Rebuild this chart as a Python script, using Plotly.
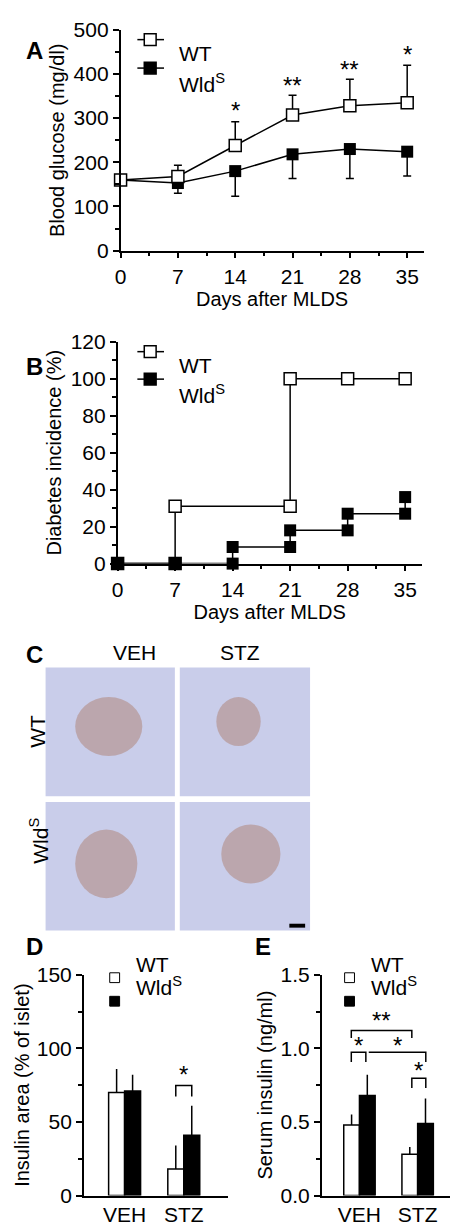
import plotly.graph_objects as go

W, H = 458, 1226

# panel A - blood glucose
days = [0, 7, 14, 21, 28, 35]
wt_glucose = [160, 168, 238, 307, 328, 335]
wt_glucose_err = [0, 25, 54, 45, 60, 85]
wlds_glucose = [160, 153, 180, 218, 230, 224]
wlds_glucose_err = [0, 23, 57, 55, 67, 55]
glucose_stars = ["*", "**", "**", "*"]
glucose_star_days = [14, 21, 28, 35]
glucose_star_y = [318, 373, 410, 443]

# panel B - diabetes incidence (step curves)
wt_inc_x = [0, 7, 7, 21, 21, 28, 35]
wt_inc_y = [0, 0, 31, 31, 100, 100, 100]
wlds_inc_x = [0, 7, 14, 14, 21, 21, 28, 28, 35, 35]
wlds_inc_y = [0, 0, 0, 9, 9, 18, 18, 27, 27, 36]

# panel D - insulin area
groups = ["VEH", "STZ"]
wt_area = [70, 18]
wt_area_err = [16, 16]
wlds_area = [71, 41]
wlds_area_err = [11, 20]

# panel E - serum insulin
wt_serum = [0.48, 0.28]
wt_serum_err = [0.07, 0.05]
wlds_serum = [0.68, 0.49]
wlds_serum_err = [0.14, 0.17]

FONT = "Liberation Sans, Arial, sans-serif"
TICK = 21
TITLE = 20
LEG = 21
STAR = 24


def px(x):
    return x / W


def py(y):
    return 1 - y / H


fig = go.Figure()
shapes = []
annots = []

axis_common = dict(showline=True, linecolor="black", linewidth=1.5, ticks="outside",
                   tickcolor="black", tickwidth=1.5, ticklen=6, showgrid=False,
                   zeroline=False, tickfont=dict(size=TICK, color="black"),
                   title_font=dict(size=TITLE, color="black"))

# ---- A ----
fig.add_trace(go.Scatter(x=days, y=wlds_glucose, mode="lines+markers", xaxis="x", yaxis="y",
                         line=dict(color="black", width=1.5),
                         marker=dict(symbol="square", size=12, color="black"),
                         error_y=dict(type="data", symmetric=False, array=[0] * 6,
                                      arrayminus=wlds_glucose_err, color="black", thickness=1.5, width=4),
                         cliponaxis=False))
fig.add_trace(go.Scatter(x=days, y=wt_glucose, mode="lines+markers", xaxis="x", yaxis="y",
                         line=dict(color="black", width=1.5),
                         marker=dict(symbol="square", size=12, color="white", line=dict(color="black", width=1.5)),
                         error_y=dict(type="data", symmetric=False, array=wt_glucose_err,
                                      arrayminus=[0] * 6, color="black", thickness=1.5, width=4),
                         cliponaxis=False))
for d, s, yv in zip(glucose_star_days, glucose_stars, glucose_star_y):
    annots.append(dict(x=d, y=yv, xref="x", yref="y", text=s, showarrow=False,
                       font=dict(size=STAR, color="black")))

# ---- B ----
fig.add_trace(go.Scatter(x=wt_inc_x, y=wt_inc_y, mode="lines+markers", xaxis="x2", yaxis="y2",
                         line=dict(color="black", width=1.5),
                         marker=dict(symbol="square", size=12, color="white", line=dict(color="black", width=1.5)),
                         cliponaxis=False))
fig.add_trace(go.Scatter(x=wlds_inc_x, y=wlds_inc_y, mode="lines+markers", xaxis="x2", yaxis="y2",
                         line=dict(color="black", width=1.5),
                         marker=dict(symbol="square", size=12, color="black"),
                         cliponaxis=False))

# ---- D / E ----
bar_w = 0.27
for xa, ya, wt, we, wl, wle in [("x3", "y3", wt_area, wt_area_err, wlds_area, wlds_area_err),
                                ("x4", "y4", wt_serum, wt_serum_err, wlds_serum, wlds_serum_err)]:
    fig.add_trace(go.Bar(x=[0, 1], y=wt, width=bar_w, offset=-bar_w, xaxis=xa, yaxis=ya,
                         marker=dict(color="white", line=dict(color="black", width=1.5)),
                         error_y=dict(type="data", symmetric=False, array=we, arrayminus=[0, 0],
                                      color="black", thickness=1.5, width=0)))
    fig.add_trace(go.Bar(x=[0, 1], y=wl, width=bar_w, offset=0, xaxis=xa, yaxis=ya,
                         marker=dict(color="black", line=dict(color="black", width=1.5)),
                         error_y=dict(type="data", symmetric=False, array=wle, arrayminus=[0, 0],
                                      color="black", thickness=1.5, width=0)))


def bracket(xa, ya, x0, x1, ytop, ybot0, ybot1, star, ystar):
    shapes.append(dict(type="path", xref=xa, yref=ya,
                       path=f"M {x0},{ybot0} L {x0},{ytop} L {x1},{ytop} L {x1},{ybot1}",
                       line=dict(color="black", width=1.5)))
    annots.append(dict(x=(x0 + x1) / 2, y=ystar, xref=xa, yref=ya, text=star, showarrow=False,
                       font=dict(size=STAR, color="black")))


bracket("x3", "y3", 1 - 0.135, 1 + 0.135, 74.7, 67.3, 67.3, "*", 82)
bracket("x4", "y4", -0.14, 0.9, 1.122, 1.07, 1.07, "**", 1.19)
bracket("x4", "y4", -0.14, 0.11, 0.973, 0.907, 0.907, "*", 1.02)
bracket("x4", "y4", 0.16, 1.14, 0.973, 0.973, 0.907, "*", 1.02)
bracket("x4", "y4", 0.9, 1.14, 0.796, 0.73, 0.73, "*", 0.85)

# ---- legends (drawn by hand per panel) ----
def line_legend(y_wt, y_wl):
    for yy, fill in [(y_wt, "white"), (y_wl, "black")]:
        shapes.append(dict(type="line", xref="paper", yref="paper", x0=px(125), x1=px(152),
                           y0=py(yy), y1=py(yy), line=dict(color="black", width=1.5)))
        shapes.append(dict(type="rect", xref="paper", yref="paper", x0=px(132), x1=px(144),
                           y0=py(yy + 6), y1=py(yy - 6), fillcolor=fill, line=dict(color="black", width=1.5)))
    annots.append(dict(x=px(165), y=py(y_wt), xref="paper", yref="paper", text="WT", showarrow=False,
                       xanchor="left", font=dict(size=LEG, color="black")))
    annots.append(dict(x=px(165), y=py(y_wl), xref="paper", yref="paper", text="Wld<sup>S</sup>",
                       showarrow=False, xanchor="left", font=dict(size=LEG, color="black")))


def bar_legend(xs, y_wt, y_wl):
    for yy, fill in [(y_wt, "white"), (y_wl, "black")]:
        shapes.append(dict(type="rect", xref="paper", yref="paper", x0=px(xs - 5), x1=px(xs + 5),
                           y0=py(yy + 5), y1=py(yy - 5), fillcolor=fill, line=dict(color="black", width=1)))
    annots.append(dict(x=px(xs + 20), y=py(y_wt), xref="paper", yref="paper", text="WT", showarrow=False,
                       xanchor="left", font=dict(size=LEG, color="black")))
    annots.append(dict(x=px(xs + 20), y=py(y_wl), xref="paper", yref="paper", text="Wld<sup>S</sup>",
                       showarrow=False, xanchor="left", font=dict(size=LEG, color="black")))


line_legend(20, 49)
line_legend(338, 366)
bar_legend(102, 976, 1000)
bar_legend(340, 976, 1000)

# ---- C: micrograph placeholders ----
tiles = [(32, 163, 660, 791), (168, 300, 660, 791), (32, 163, 797, 928), (168, 300, 797, 928)]
islets = [(62, 130, 690, 750), (205, 250, 690, 740), (62, 125, 825, 895), (210, 270, 820, 880)]
for (x0, x1, y0, y1), (a0, a1, b0, b1) in zip(tiles, islets):
    shapes.append(dict(type="rect", xref="paper", yref="paper", x0=px(x0), x1=px(x1), y0=py(y1), y1=py(y0),
                       fillcolor="#c9cdea", line=dict(width=0), layer="below"))
    shapes.append(dict(type="circle", xref="paper", yref="paper", x0=px(a0), x1=px(a1), y0=py(b1), y1=py(b0),
                       fillcolor="rgba(170,120,100,0.45)", line=dict(width=0), layer="below"))
shapes.append(dict(type="rect", xref="paper", yref="paper", x0=px(279), x1=px(295), y0=py(925), y1=py(921),
                   fillcolor="black", line=dict(width=0)))
for txt, x, y, ang in [("VEH", 98, 645, 0), ("STZ", 229, 645, 0), ("WT", 10, 725, -90),
                       ("Wld<sup>S</sup>", 10, 862, -90)]:
    annots.append(dict(x=px(x), y=py(y), xref="paper", yref="paper", text=txt, showarrow=False,
                       textangle=ang, font=dict(size=LEG, color="black")))

# panel letters
for txt, x, y in [("A", 10, 15), ("B", 10, 337), ("C", 10, 647), ("D", 10, 960), ("E", 252, 960)]:
    annots.append(dict(x=px(x), y=py(y), xref="paper", yref="paper", text=f"<b>{txt}</b>", showarrow=False,
                       font=dict(size=24, color="black")))

fig.update_layout(
    width=W, height=H, margin=dict(l=0, r=0, t=0, b=0),
    paper_bgcolor="white", plot_bgcolor="white", showlegend=False,
    font=dict(family=FONT, color="black"),
    barmode="overlay",
    shapes=shapes, annotations=annots,
    xaxis=dict(axis_common, domain=[px(108), px(415)], range=[0, 37], anchor="y",
               tickvals=days, minor=dict(ticks="outside", dtick=3.5, tick0=0, ticklen=4, tickcolor="black"),
               title=dict(text="Days after MLDS", standoff=2)),
    yaxis=dict(axis_common, domain=[py(235), py(10)], range=[0, 500], anchor="x", dtick=100,
               minor=dict(ticks="outside", dtick=50, ticklen=4, tickcolor="black"),
               title=dict(text="Blood glucose (mg/dl)", standoff=4)),
    xaxis2=dict(axis_common, domain=[px(105), px(413)], range=[0, 37], anchor="y2",
                tickvals=days, minor=dict(ticks="outside", dtick=3.5, tick0=0, ticklen=4, tickcolor="black"),
                title=dict(text="Days after MLDS", standoff=2)),
    yaxis2=dict(axis_common, domain=[py(554), py(328)], range=[0, 120], anchor="x2", dtick=20,
                minor=dict(ticks="outside", dtick=10, ticklen=4, tickcolor="black"),
                title=dict(text="Diabetes incidence (%)", standoff=4)),
    xaxis3=dict(axis_common, domain=[px(70.7), px(216.7)], range=[-0.69, 1.745], anchor="y3",
                tickvals=[0, 1], ticktext=groups, ticks=""),
    yaxis3=dict(axis_common, domain=[py(1198), py(973)], range=[0, 150], anchor="x3", dtick=50,
                minor=dict(ticks="outside", dtick=25, ticklen=4, tickcolor="black"),
                title=dict(text="Insulin area (% of islet)", standoff=2)),
    xaxis4=dict(axis_common, domain=[px(311.7), px(455)], range=[-0.65, 1.78], anchor="y4",
                tickvals=[0, 1], ticktext=groups, ticks=""),
    yaxis4=dict(axis_common, domain=[py(1198), py(973)], range=[0, 1.5], anchor="x4", dtick=0.5,
                tickformat=".1f", minor=dict(ticks="outside", dtick=0.25, ticklen=4, tickcolor="black"),
                title=dict(text="Serum insulin (ng/ml)", standoff=2)),
)

fig.write_html("out.html")
